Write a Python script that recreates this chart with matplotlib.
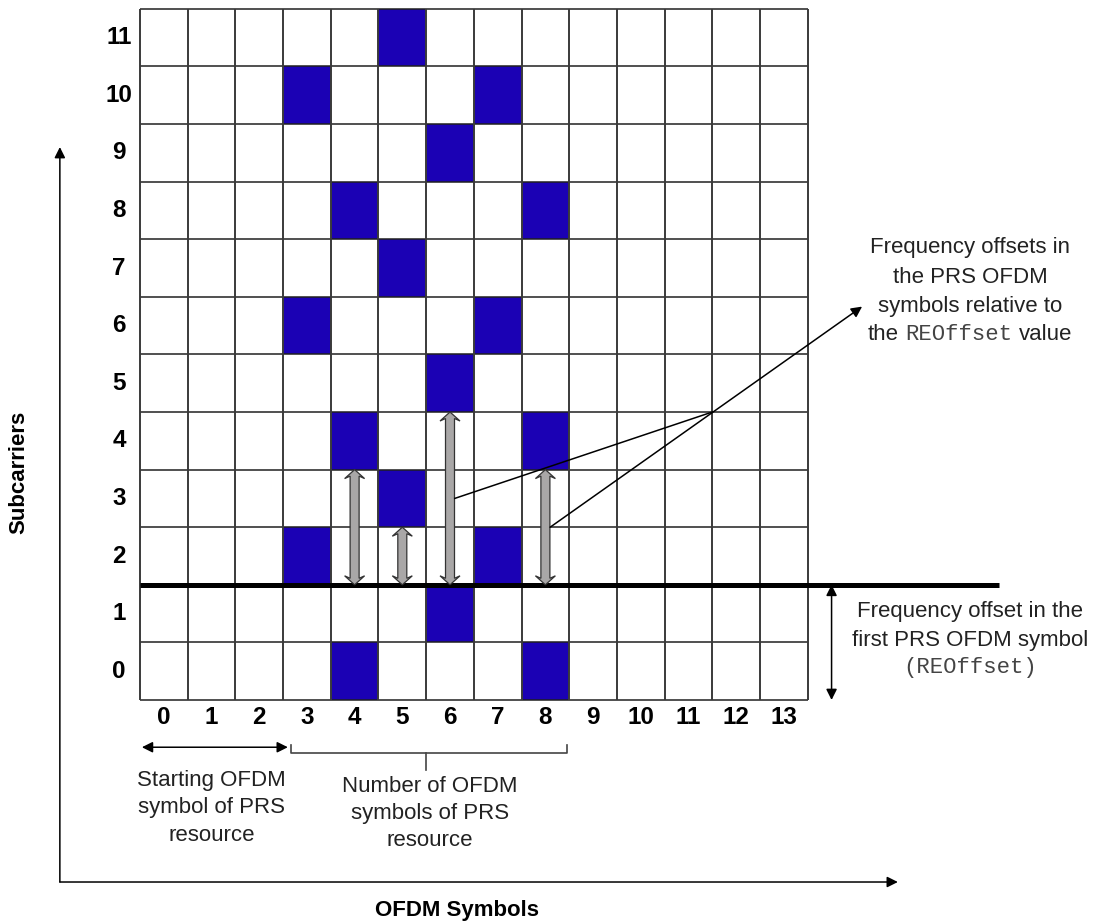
import matplotlib
matplotlib.use("Agg")
import matplotlib.pyplot as plt
from matplotlib.patches import Polygon
from matplotlib.offsetbox import TextArea, HPacker, AnnotationBbox


# grid size
symbol_labels = ["0", "1", "2", "3", "4", "5", "6", "7", "8", "9", "10", "11", "12", "13"]
subcarrier_labels = ["0", "1", "2", "3", "4", "5", "6", "7", "8", "9", "10", "11"]

# occupied PRS resource elements (symbol, subcarrier)
prs_symbol = [3, 3, 3, 4, 4, 4, 5, 5, 5, 6, 6, 6, 7, 7, 7, 8, 8, 8]
prs_subcarrier = [2, 6, 10, 0, 4, 8, 3, 7, 11, 1, 5, 9, 2, 6, 10, 0, 4, 8]

# REOffset and the relative offsets drawn as grey arrows
re_offset = 2
offset_symbols = [4, 5, 6, 8]
offset_tops = [4, 3, 5, 4]

# PRS resource: start symbol and number of symbols
start_symbol = 3
n_prs_symbols = 6

BLUE = "#1b01b4"
GRID = "#3a3a3a"
TXT = "#222222"
SANS = "Liberation Sans"
MONO = "Liberation Mono"
FS = 16
FS_BOLD = 17.5


def double_arrow(ax, x, y0, y1):
    # fat grey double-headed arrow, sizes in pixels converted to data units
    sw = 4.5 / 47.7
    hw = 10.0 / 47.7
    hl = 9 / 57.6
    nl = 6.5 / 57.6
    pts = [
        (x, y0), (x + hw, y0 + hl), (x + sw, y0 + nl), (x + sw, y1 - nl),
        (x + hw, y1 - hl), (x, y1), (x - hw, y1 - hl), (x - sw, y1 - nl),
        (x - sw, y0 + nl), (x - hw, y0 + hl),
    ]
    ax.add_patch(Polygon(pts, closed=True, facecolor="#a9a7a7",
                         edgecolor="#333333", lw=0.9, zorder=5))


def thin_arrow(ax, start, end, style="-|>"):
    ax.annotate("", xy=end, xytext=start,
                arrowprops=dict(arrowstyle=style, color="black", lw=1.1,
                                mutation_scale=16, shrinkA=0, shrinkB=0),
                zorder=6)


def main() -> None:
    n_sym = len(symbol_labels)
    n_sc = len(subcarrier_labels)

    fig = plt.figure(figsize=(11.02, 9.24), dpi=100)
    ax = fig.add_axes([0, 0, 1, 1])
    ax.set_xlim(-2.935, 20.17)
    ax.set_ylim(-3.889, 12.153)
    ax.axis("off")

    # resource elements
    ax.bar(prs_symbol, 1, width=1, bottom=prs_subcarrier, align="edge",
           color=BLUE, edgecolor="none", zorder=1)

    # grid
    ax.hlines(range(n_sc + 1), 0, n_sym, color="#202020", lw=1.1, zorder=2)
    ax.vlines(range(n_sym + 1), 0, n_sc, color=GRID, lw=1.4, zorder=2)

    # REOffset line
    ax.plot([0, 18], [re_offset, re_offset], color="black", lw=3.6,
            solid_capstyle="butt", zorder=3)

    # tick labels
    for i, lab in enumerate(symbol_labels):
        ax.text(i + 0.5, -0.31, lab, ha="center", va="center",
                fontsize=FS_BOLD, fontweight="bold", family=SANS)
    for j, lab in enumerate(subcarrier_labels):
        ax.text(-0.44, j + 0.5, lab, ha="center", va="center",
                fontsize=FS_BOLD, fontweight="bold", family=SANS)

    # relative offset arrows
    for s, top in zip(offset_symbols, offset_tops):
        double_arrow(ax, s + 0.5, re_offset, top)

    # leader lines to the annotation
    ax.plot([6.6, 12.0], [3.5, 5.0], color="black", lw=1.1, zorder=6)
    thin_arrow(ax, (8.6, 3.0), (15.14, 6.83))

    ax.text(17.4, 7.85, "Frequency offsets in", ha="center", va="center",
            fontsize=FS, family=SANS, color=TXT)
    ax.text(17.4, 7.34, "the PRS OFDM", ha="center", va="center",
            fontsize=FS, family=SANS, color=TXT)
    ax.text(17.4, 6.84, "symbols relative to", ha="center", va="center",
            fontsize=FS, family=SANS, color=TXT)
    line = HPacker(children=[
        TextArea("the", textprops=dict(fontsize=FS, family=SANS, color=TXT)),
        TextArea("REOffset", textprops=dict(fontsize=FS, family=MONO, color="#444444")),
        TextArea("value", textprops=dict(fontsize=FS, family=SANS, color=TXT)),
    ], align="baseline", pad=0, sep=4.5)
    ax.add_artist(AnnotationBbox(line, (17.4, 6.34), xycoords="data",
                                 frameon=False, box_alignment=(0.5, 0.5), pad=0))

    # REOffset arrow on the right
    thin_arrow(ax, (14.5, 0), (14.5, re_offset), style="<|-|>")
    ax.text(17.4, 1.545, "Frequency offset in the", ha="center", va="center",
            fontsize=FS, family=SANS, color=TXT)
    ax.text(17.4, 1.04, "first PRS OFDM symbol", ha="center", va="center",
            fontsize=FS, family=SANS, color=TXT)
    ax.text(17.4, 0.556, "(REOffset)", ha="center", va="center",
            fontsize=FS, family=MONO, color="#444444")

    # starting symbol arrow
    thin_arrow(ax, (0.04, -0.82), (start_symbol + 0.1, -0.82), style="<|-|>")
    ax.text(start_symbol / 2, -1.875, "Starting OFDM\nsymbol of PRS\nresource",
            ha="center", va="center", fontsize=FS, family=SANS,
            color=TXT, linespacing=1.4)

    # bracket for number of symbols
    b0 = start_symbol + 0.17
    b1 = start_symbol + n_prs_symbols - 0.05
    mid = start_symbol + n_prs_symbols / 2
    ax.plot([b0, b0, b1, b1], [-0.78, -0.92, -0.92, -0.78], color="#444444", lw=1.2)
    ax.plot([mid, mid], [-0.92, -1.21], color="#444444", lw=1.2)
    ax.text(mid + 0.08, -1.97, "Number of OFDM\nsymbols of PRS\nresource",
            ha="center", va="center", fontsize=FS, family=SANS,
            color=TXT, linespacing=1.4)

    # outer axes
    thin_arrow(ax, (-1.68, -3.16), (15.89, -3.16))
    thin_arrow(ax, (-1.68, -3.16), (-1.68, 9.6))
    ax.text(6.65, -3.65, "OFDM Symbols", ha="center", va="center",
            fontsize=FS, fontweight="bold", family=SANS)
    ax.text(-2.55, 3.96, "Subcarriers", ha="center", va="center", rotation=90,
            fontsize=FS, fontweight="bold", family=SANS)

    fig.savefig("out.png", dpi=100)


if __name__ == "__main__":
    main()
